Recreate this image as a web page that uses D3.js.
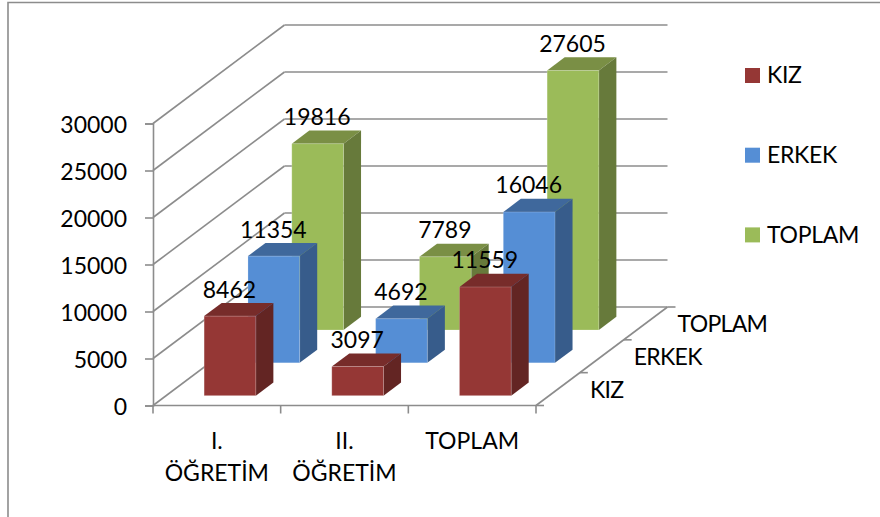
<!DOCTYPE html>
<html>
<head>
<meta charset="utf-8">
<script src="https://cdn.jsdelivr.net/npm/d3@7"></script>
<style>
    html, body { margin: 0; padding: 0; background: #fff; }
    svg { display: block; }
    text { font-family: Lato, sans-serif; font-size: 23px; fill: #000; }
</style>
</head>
<body>
<div id="chart"></div>
<script>
// chart values
var categories = ["I. ÖĞRETİM", "II. ÖĞRETİM", "TOPLAM"];
var seriesNames = ["KIZ", "ERKEK", "TOPLAM"];
var kizValues = [8462, 3097, 11559];
var erkekValues = [11354, 4692, 16046];
var toplamValues = [19816, 7789, 27605];
var yTicks = [0, 5000, 10000, 15000, 20000, 25000, 30000];

// colours per series: front, top, side
var frontColors = ["#953735", "#558ed5", "#9bbb59"];
var topColors = ["#772c2a", "#3f689c", "#7a8f45"];
var sideColors = ["#632523", "#375c8b", "#677a3b"];
var gridColor = "#8c8c8c";

var seriesValues = [kizValues, erkekValues, toplamValues];

var width = 880, height = 517;

// front edge of the floor and how far the depth axis runs
var left = 153, right = 536, floorY = 405.5, topY = 123.5;
var depthX = 131.5, depthY = -98.5;

var svg = d3.select("#chart")
    .append("svg")
    .attr("width", width)
    .attr("height", height);

// Scaling functions
var xScale = d3.scaleBand()
    .domain(categories)
    .range([left, right])
    .paddingInner(0.595)
    .paddingOuter(0.2975);

var yScale = d3.scaleLinear()
    .domain([0, 30000])
    .range([floorY, topY]);

var zScale = d3.scaleBand()
    .domain(seriesNames)
    .range([0, 1])
    .paddingInner(0.6)
    .paddingOuter(0.3);

// slide a point backwards along the depth axis
function px(x, z) { return x + z * depthX; }
function py(y, z) { return y + z * depthY; }

function poly(points) {
    return points.map(function(p) { return p[0] + "," + p[1]; }).join(" ");
}

function gridLine(x1, y1, x2, y2) {
    svg.append("line")
        .attr("x1", x1).attr("y1", y1)
        .attr("x2", x2).attr("y2", y2)
        .attr("stroke", gridColor)
        .attr("stroke-width", 1.6);
}

// Frame of the original picture
svg.append("path")
    .attr("d", "M8," + height + "V2.5H" + width)
    .attr("fill", "none")
    .attr("stroke", "#8c8c8c")
    .attr("stroke-width", 1.6);

// Walls: side wall lines plus back wall lines
yTicks.forEach(function(t) {
    var y = yScale(t);
    gridLine(left, y, px(left, 1), py(y, 1));
    gridLine(px(left, 1), py(y, 1), px(right, 1), py(y, 1));
});

// Floor edges
gridLine(left, floorY, right, floorY);
gridLine(right, floorY, px(right, 1), py(floorY, 1));

// ticks under the front edge, between the categories
d3.range(categories.length + 1).forEach(function(i) {
    var x = left + i * xScale.step();
    gridLine(x, floorY, x, floorY + 8);
});

// ticks on the depth edge
d3.range(seriesNames.length + 1).forEach(function(i) {
    var z = i / seriesNames.length;
    gridLine(px(right, z), py(floorY, z), px(right, z) + 8, py(floorY, z));
});

// Y axis
var yAxis = d3.axisLeft(yScale)
    .tickValues(yTicks)
    .tickSize(8)
    .tickPadding(18)
    .tickFormat(d3.format("d"));

var yAxisGroup = svg.append("g")
    .attr("transform", "translate(" + left + ",0)")
    .call(yAxis);

yAxisGroup.select(".domain").attr("stroke", gridColor).attr("stroke-width", 1.6);
yAxisGroup.selectAll("line").attr("stroke", gridColor).attr("stroke-width", 1.6);
yAxisGroup.selectAll("text").attr("dy", "0.39em").style("font-family", "Lato, sans-serif").style("font-size", "23px");

// Bars, back series first so the front ones cover them
var barDepth = zScale.bandwidth();

for (var s = seriesNames.length - 1; s >= 0; s--) {
    var z0 = zScale(seriesNames[s]);
    var z1 = z0 + barDepth;

    var bars = svg.append("g").selectAll("g")
        .data(seriesValues[s])
        .enter()
        .append("g");

    // top face
    bars.append("polygon")
        .attr("points", function(d, i) {
            var x0 = xScale(categories[i]), x1 = x0 + xScale.bandwidth(), y = yScale(d);
            return poly([[px(x0, z0), py(y, z0)], [px(x1, z0), py(y, z0)], [px(x1, z1), py(y, z1)], [px(x0, z1), py(y, z1)]]);
        })
        .attr("fill", topColors[s]);

    // side face
    bars.append("polygon")
        .attr("points", function(d, i) {
            var x1 = xScale(categories[i]) + xScale.bandwidth(), y = yScale(d), y0 = yScale(0);
            return poly([[px(x1, z0), py(y, z0)], [px(x1, z1), py(y, z1)], [px(x1, z1), py(y0, z1)], [px(x1, z0), py(y0, z0)]]);
        })
        .attr("fill", sideColors[s]);

    // front face
    bars.append("rect")
        .attr("x", function(d, i) { return px(xScale(categories[i]), z0); })
        .attr("y", function(d) { return py(yScale(d), z0); })
        .attr("width", xScale.bandwidth())
        .attr("height", function(d) { return yScale(0) - yScale(d); })
        .attr("fill", frontColors[s])
        .attr("stroke", "#fff")
        .attr("stroke-opacity", 0.2);
}

// Data labels go on top of every bar
seriesNames.forEach(function(name, s) {
    var z0 = zScale(name);
    svg.append("g").selectAll("text")
        .data(seriesValues[s])
        .enter()
        .append("text")
        .attr("x", function(d, i) { return px(xScale(categories[i]) + xScale.bandwidth() / 2, z0) - 0.5; })
        .attr("y", function(d) { return py(yScale(d), z0) - 18.5; })
        .attr("text-anchor", "middle")
        .text(function(d) { return d; });
});

// Category labels, broken on the space
categories.forEach(function(c) {
    var label = svg.append("text")
        .attr("text-anchor", "middle")
        .attr("y", 448.7);
    c.split(" ").forEach(function(word, i) {
        label.append("tspan")
            .attr("x", xScale(c) + xScale.bandwidth() / 2)
            .attr("dy", i === 0 ? 0 : 32.3)
            .text(word);
    });
});

// Depth axis labels, a bit tighter to fit like the original
svg.append("g").selectAll("text")
    .data(seriesNames)
    .enter()
    .append("text")
    .attr("x", function(d) { return px(right, zScale(d) + barDepth / 2) + 32; })
    .attr("y", function(d) { return py(floorY, zScale(d) + barDepth / 2) + 8.7; })
    .attr("letter-spacing", "-0.7px")
    .text(function(d) { return d; });

// Legend
var legend = svg.append("g").selectAll("g")
    .data(seriesNames)
    .enter()
    .append("g")
    .attr("transform", function(d, i) { return "translate(745," + (68 + i * 79.7) + ")"; });

legend.append("rect")
    .attr("width", 15)
    .attr("height", 15)
    .attr("fill", function(d, i) { return frontColors[i]; });

legend.append("text")
    .attr("x", 22)
    .attr("y", 15.3)
    .attr("letter-spacing", "-0.3px")
    .text(function(d) { return d; });
</script>
</body>
</html>
